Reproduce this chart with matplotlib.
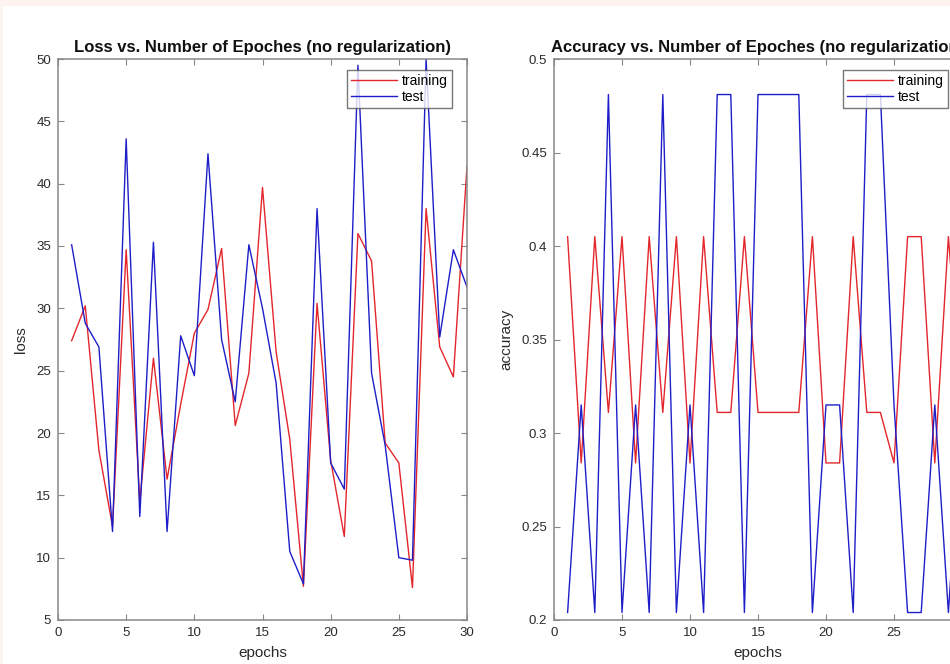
import matplotlib
matplotlib.use("Agg")
import matplotlib.pyplot as plt
from matplotlib.patches import Rectangle

plt.rcParams['font.family'] = ['Liberation Sans', 'DejaVu Sans']

epochs = list(range(1, 31))

loss_train = [27.4, 30.2, 18.6, 12.5, 34.7, 14.5, 26.0, 16.3, 22.3, 28.0,
              29.9, 34.8, 20.6, 24.8, 39.7, 26.5, 19.5, 7.7, 30.4, 17.8,
              11.7, 36.0, 33.8, 19.2, 17.6, 7.6, 38.0, 26.9, 24.5, 41.4]
loss_test = [35.1, 28.8, 26.9, 12.1, 43.6, 13.3, 35.3, 12.1, 27.8, 24.6,
             42.4, 27.5, 22.5, 35.1, 30.0, 24.0, 10.5, 7.9, 38.0, 17.6,
             15.5, 49.5, 24.8, 19.0, 10.0, 9.8, 50.0, 27.7, 34.7, 31.7]

acc_train = [0.405, 0.284, 0.405, 0.311, 0.405, 0.284, 0.405, 0.311, 0.405, 0.284,
             0.405, 0.311, 0.311, 0.405, 0.311, 0.311, 0.311, 0.311, 0.405, 0.284,
             0.284, 0.405, 0.311, 0.311, 0.284, 0.405, 0.405, 0.284, 0.405, 0.311]
acc_test = [0.204, 0.315, 0.204, 0.481, 0.204, 0.315, 0.204, 0.481, 0.204, 0.315,
            0.204, 0.481, 0.481, 0.204, 0.481, 0.481, 0.481, 0.481, 0.204, 0.315,
            0.315, 0.204, 0.481, 0.481, 0.315, 0.204, 0.204, 0.315, 0.204, 0.315]

loss_ticks = [5, 10, 15, 20, 25, 30, 35, 40, 45, 50]
acc_ticks = [0.2, 0.25, 0.3, 0.35, 0.4, 0.45, 0.5]
acc_ticklabels = ['0.2', '0.25', '0.3', '0.35', '0.4', '0.45', '0.5']
x_ticks = [0, 5, 10, 15, 20, 25, 30]

RED = '#e3262b'
BLUE = '#1e1ec8'
SPINE = '#888888'
TXT = '#2a2a2a'
EDGE = '#fdf3f1'

fig = plt.figure(figsize=(9.5, 6.64), dpi=100, facecolor='white')
# thin tinted margin along the top and left edges
fig.patches.append(Rectangle((0, 1 - 6 / 664), 1, 6 / 664, transform=fig.transFigure,
                             facecolor=EDGE, edgecolor='none'))
fig.patches.append(Rectangle((0, 0), 3 / 950, 1, transform=fig.transFigure,
                             facecolor=EDGE, edgecolor='none'))


def style_axes(ax):
    for s in ax.spines.values():
        s.set_color(SPINE)
        s.set_linewidth(1.1)
    ax.tick_params(direction='in', length=4, width=0.8, color=SPINE,
                   labelsize=9.5, labelcolor=TXT, top=True, right=True, pad=5)


def add_legend(ax, right_px, top_px):
    leg = ax.legend(loc='upper right', fontsize=10, frameon=True, fancybox=False,
                    edgecolor='#555555', handlelength=3.3, handletextpad=0.35,
                    borderpad=0.3, labelspacing=0.12, borderaxespad=0,
                    bbox_to_anchor=(right_px / 950, 1 - top_px / 664),
                    bbox_transform=fig.transFigure)
    leg.get_frame().set_linewidth(1.0)
    return leg


ax1 = fig.add_axes([58 / 950, 44 / 664, 409 / 950, 561 / 664])
ax1.plot(epochs, loss_train, color=RED, lw=1.0, label='training')
ax1.plot(epochs, loss_test, color=BLUE, lw=1.0, label='test')
ax1.set_xlim(0, 30)
ax1.set_ylim(5, 50)
ax1.set_xticks(x_ticks)
ax1.set_yticks(loss_ticks)
ax1.set_xlabel('epochs', fontsize=11, color=TXT, labelpad=5)
ax1.set_ylabel('loss', fontsize=11, color=TXT, labelpad=6)
ax1.set_title('Loss vs. Number of Epoches (no regularization)',
              fontsize=12, fontweight='bold', color='#111111', pad=5)
style_axes(ax1)
add_legend(ax1, 452, 70)

ax2 = fig.add_axes([554 / 950, 44 / 664, 408 / 950, 561 / 664])
ax2.plot(epochs, acc_train, color=RED, lw=1.0, label='training')
ax2.plot(epochs, acc_test, color=BLUE, lw=1.0, label='test')
ax2.set_xlim(0, 30)
ax2.set_ylim(0.2, 0.5)
ax2.set_xticks(x_ticks)
ax2.set_yticks(acc_ticks)
ax2.set_yticklabels(acc_ticklabels)
ax2.set_xlabel('epochs', fontsize=11, color=TXT, labelpad=5)
ax2.set_ylabel('accuracy', fontsize=11, color=TXT, labelpad=6)
ax2.set_title('Accuracy vs. Number of Epoches (no regularization)',
              fontsize=12, fontweight='bold', color='#111111', pad=5)
style_axes(ax2)
add_legend(ax2, 948, 70)

fig.savefig('out.png', dpi=100)
